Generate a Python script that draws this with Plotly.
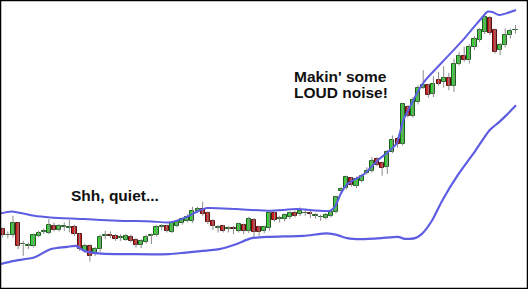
import plotly.graph_objects as go

# ---- Candle data (arbitrary price units) ----
opens = [215, 196, 197, 232, 170, 165, 165, 195, 205, 202,
         223, 212, 222, 219, 220, 200, 150, 165, 140, 155,
         195, 196, 195, 188, 184, 192, 182, 167, 178, 195,
         197, 221, 224, 207, 225, 232, 240, 238, 268, 276,
         263, 238, 218, 224, 216, 218, 210, 228, 210, 243,
         220, 208, 217, 262, 246, 244, 250, 264, 259, 262,
         262, 255, 250, 248, 255, 265, 328, 338, 367, 345,
         360, 382, 388, 425, 413, 400, 445, 485, 470, 580,
         554, 595, 637, 645, 618, 660, 654, 667, 642, 710,
         732, 720, 760, 780, 804, 845, 810, 750, 765, 794,
         809]
highs = [220, 208, 255, 235, 180, 175, 202, 210, 217, 245,
         235, 230, 235, 242, 228, 202, 172, 170, 162, 198,
         210, 208, 200, 200, 200, 198, 188, 185, 198, 202,
         227, 230, 228, 238, 242, 250, 260, 282, 282, 297,
         268, 245, 227, 228, 224, 225, 235, 232, 252, 248,
         225, 225, 270, 267, 255, 262, 268, 270, 280, 272,
         272, 263, 258, 263, 272, 315, 340, 375, 370, 372,
         380, 400, 430, 430, 417, 452, 495, 490, 592, 585,
         610, 645, 690, 650, 672, 685, 702, 682, 725, 745,
         760, 768, 792, 816, 855, 852, 815, 772, 815, 815,
         825]
lows = [190, 188, 190, 155, 135, 155, 160, 190, 200, 200,
        208, 208, 210, 205, 195, 150, 145, 118, 135, 148,
        185, 188, 180, 180, 180, 175, 160, 158, 172, 170,
        193, 212, 205, 203, 220, 228, 235, 233, 263, 255,
        230, 213, 205, 205, 205, 200, 205, 200, 203, 188,
        195, 203, 210, 237, 235, 238, 245, 250, 254, 255,
        248, 247, 240, 244, 250, 262, 324, 333, 342, 337,
        355, 378, 384, 403, 375, 380, 442, 458, 465, 548,
        548, 588, 634, 608, 610, 644, 638, 630, 625, 704,
        715, 710, 750, 774, 798, 795, 740, 735, 758, 785,
        800]
closes = [197, 198, 232, 165, 171, 167, 198, 203, 208, 228,
          212, 225, 225, 222, 200, 155, 165, 135, 155, 192,
          197, 195, 185, 190, 195, 180, 167, 180, 192, 197,
          222, 223, 208, 232, 237, 245, 252, 268, 276, 260,
          235, 223, 220, 210, 218, 216, 230, 210, 245, 205,
          205, 220, 262, 242, 248, 256, 262, 254, 268, 264,
          260, 257, 252, 258, 267, 310, 336, 370, 347, 365,
          373, 388, 420, 408, 398, 445, 480, 470, 588, 554,
          600, 638, 645, 616, 648, 650, 666, 644, 710, 732,
          722, 760, 783, 810, 848, 800, 745, 765, 795, 808,
          811]

# ---- Bollinger band readings (position in bars, value) ----
upper_x = [-0.5, 1.8, 6.1, 9.3, 15.9, 22.5, 29.1, 32.4, 35.7, 38.3, 39.9,
           45.5, 52.1, 57.4, 63.9, 64.9, 65.9, 67.2, 70.5, 73.2, 75.1,
           76.8, 77.4, 78.1, 79.4, 81.1, 82.4, 87.0, 90.3, 93.6, 94.5,
           95.5, 96.8, 98.2, 100.1]
upper_y = [262, 268, 255, 250, 245, 240, 238, 235, 250, 270, 278,
           275, 270, 275, 270, 285, 320, 350, 380, 422, 445,
           470, 500, 540, 580, 630, 660, 735, 790, 850, 865,
           864, 855, 860, 870]
lower_x = [-0.5, 2.1, 6.1, 9.3, 12.6, 14.3, 15.9, 19.2, 25.8, 32.4, 35.7,
           42.2, 45.5, 48.5, 52.1, 58.7, 63.3, 65.3, 67.2, 69.9, 73.8,
           77.1, 78.4, 80.4, 81.7, 83.7, 85.7, 88.9, 92.2, 94.9, 96.8,
           98.2, 100.1]
lower_y = [110, 120, 130, 155, 162, 165, 150, 142, 140, 140, 145,
           155, 170, 188, 192, 195, 202, 197, 188, 185, 188,
           192, 186, 188, 200, 240, 300, 380, 450, 510, 535,
           555, 585]

idx = list(range(len(opens)))

fig = go.Figure()

# wicks
wx, wy = [], []
for i in idx:
    wx += [i, i, None]
    wy += [lows[i], highs[i], None]
fig.add_trace(go.Scatter(x=wx, y=wy, mode="lines",
                         line=dict(color="#8a8a8a", width=1),
                         hoverinfo="skip", showlegend=False))

up = [i for i in idx if closes[i] >= opens[i]]
dn = [i for i in idx if closes[i] < opens[i]]
fig.add_trace(go.Bar(x=up, base=[opens[i] for i in up],
                     y=[closes[i] - opens[i] for i in up], width=0.8,
                     marker=dict(color="#33d433", line=dict(color="#1f5c1f", width=1)),
                     hoverinfo="skip", showlegend=False))
fig.add_trace(go.Bar(x=dn, base=[closes[i] for i in dn],
                     y=[opens[i] - closes[i] for i in dn], width=0.8,
                     marker=dict(color="#d01c1c", line=dict(color="#561212", width=1)),
                     hoverinfo="skip", showlegend=False))

band_color = "#5d5de2"
fig.add_trace(go.Scatter(x=upper_x, y=upper_y, mode="lines",
                         line=dict(color=band_color, width=2, shape="spline", smoothing=0.6),
                         hoverinfo="skip", showlegend=False))
fig.add_trace(go.Scatter(x=lower_x, y=lower_y, mode="lines",
                         line=dict(color=band_color, width=2.2, shape="spline", smoothing=0.6),
                         hoverinfo="skip", showlegend=False))

W, H = 528, 289
font = dict(family="Liberation Sans, Arial, sans-serif", size=15.5, color="#111111")
anns = [
    ("<b>Shh, quiet...</b>", 69, 195),
    ("<b>Makin' some</b>", 292, 76.5),
    ("<b>LOUD noise!</b>", 292, 92),
]
for txt, px, py in anns:
    fig.add_annotation(text=txt, xref="paper", yref="paper",
                       x=px / W, y=1 - py / H, xanchor="left", yanchor="middle",
                       showarrow=False, font=font)

fig.add_shape(type="rect", xref="paper", yref="paper", x0=0, x1=1, y0=0, y1=1,
              line=dict(color="black", width=2.5))

fig.update_layout(
    width=W, height=H, margin=dict(l=0, r=0, t=0, b=0),
    paper_bgcolor="white", plot_bgcolor="white",
    barmode="overlay", bargap=0, showlegend=False,
    xaxis=dict(visible=False, range=[-0.527, 102.44], fixedrange=True),
    yaxis=dict(visible=False, range=[36, 900], fixedrange=True),
)

fig.write_html("out.html", config={"displayModeBar": False})
